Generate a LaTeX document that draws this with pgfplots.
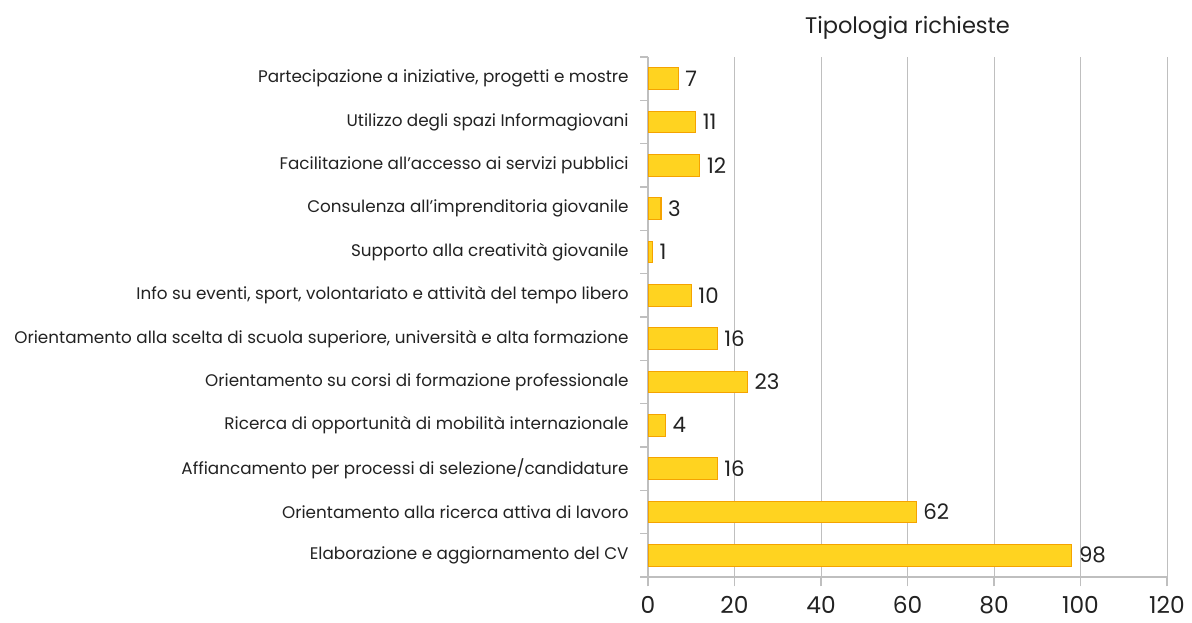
\documentclass[border=0pt]{standalone}
\usepackage{fontspec}
\setmainfont{Poppins}
\usepackage{pgfplots}
\pgfplotsset{compat=1.18}
\definecolor{barfill}{HTML}{FFD320}
\definecolor{baredge}{HTML}{F5A300}
\definecolor{gridgray}{HTML}{BFBFBF}
\definecolor{txt}{HTML}{222222}

\begin{document}
\begin{tikzpicture}
\useasboundingbox (0,0) rectangle (894pt,467.25pt);
\begin{axis}[
    at={(486pt,34.5pt)}, anchor=south west,
    scale only axis, width=389.25pt, height=390pt,
    xbar, bar width=0.5,
    xmin=0, xmax=120, ymin=-0.5, ymax=11.5,
    xtick={0,20,...,120},
    ytick={0,...,11},
    yticklabels={
        {Elaborazione e aggiornamento del CV},
        {Orientamento alla ricerca attiva di lavoro},
        {Affiancamento per processi di selezione/candidature},
        {Ricerca di opportunità di mobilità internazionale},
        {Orientamento su corsi di formazione professionale},
        {Orientamento alla scelta di scuola superiore,  università e alta formazione},
        {Info su eventi, sport, volontariato e attività del tempo libero},
        {Supporto alla creatività giovanile},
        {Consulenza all'imprenditoria giovanile},
        {Facilitazione all'accesso ai servizi pubblici},
        {Utilizzo degli spazi Informagiovani},
        {Partecipazione a iniziative, progetti e mostre}},
    minor ytick={-0.5,0.5,...,11.5},
    axis x line*=bottom, axis y line*=left,
    axis line style={gridgray, line width=0.9pt},
    tick align=outside,
    major tick length=7pt, minor tick length=6pt,
    every major y tick/.style={draw=none},
    every minor y tick/.style={gridgray, line width=0.9pt},
    every major x tick/.style={gridgray, line width=0.9pt},
    xmajorgrids, grid style={gridgray, line width=0.7pt},
    /pgf/number format/assume math mode=true,
    xticklabel style={font=\fontsize{17.5}{19}\selectfont, text=txt, yshift=-4pt},
    yticklabel style={font=\fontsize{12.6}{14}\selectfont, text=txt, xshift=-4pt},
    title={Tipologia richieste},
    title style={at={(0.5,1)}, anchor=center, yshift=15.75pt,
        font=\fontsize{16.9}{19}\selectfont, text=txt},
    nodes near coords,
    nodes near coords style={anchor=west, inner sep=0pt, xshift=5pt,
        font=\fontsize{16}{18}\selectfont, text=txt},
]
\addplot[fill=barfill, draw=baredge, line width=0.8pt] coordinates {
(98,0) (62,1) (16,2) (4,3) (23,4) (16,5) (10,6) (1,7) (3,8) (12,9) (11,10) (7,11)
};
\end{axis}
\end{tikzpicture}
\end{document}
